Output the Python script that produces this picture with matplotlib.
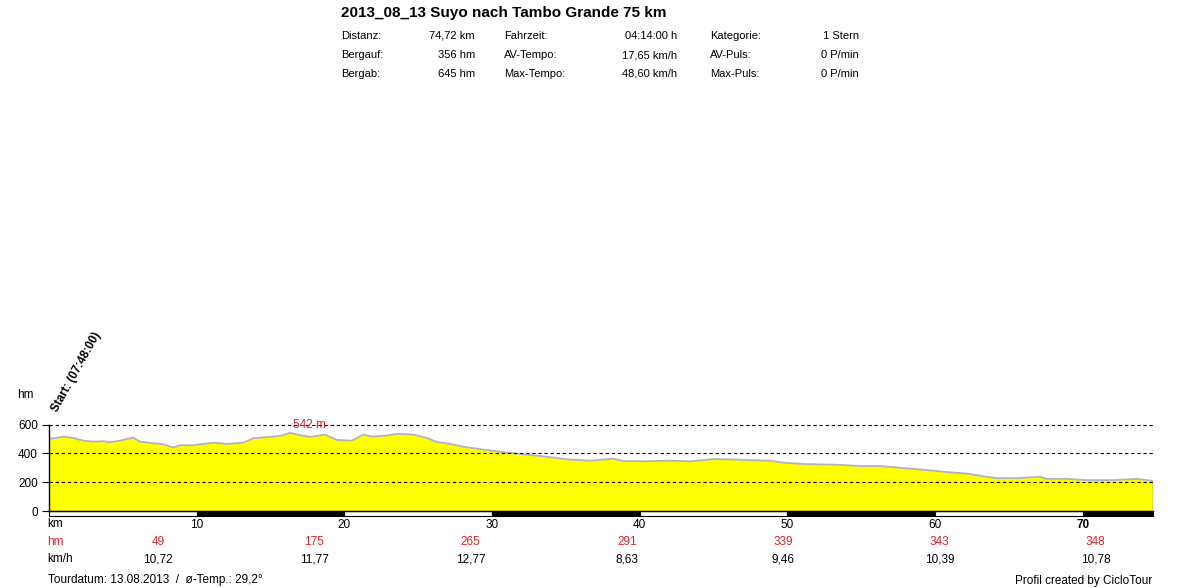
import matplotlib.pyplot as plt
from matplotlib.patches import Rectangle

plt.rcParams['font.family'] = ['Liberation Sans', 'DejaVu Sans']

# elevation profile (km, m)
dist = [0, 0.41, 0.97, 1.65, 2.33, 3.0, 3.68, 4.14, 4.81, 5.71, 6.17, 7.07, 7.75,
        8.42, 8.88, 9.78, 11.13, 12.04, 13.16, 13.84, 14.75, 15.65, 16.32, 17.0,
        17.68, 18.69, 19.49, 20.5, 21.29, 21.86, 22.64, 23.66, 24.67, 25.58, 26.26,
        27.16, 28.29, 29.64, 31.0, 32.35, 33.7, 35.06, 36.64, 38.21, 38.89, 40.24,
        42.05, 43.41, 44.99, 46.12, 47.47, 48.82, 49.72, 51.08, 53.34, 55.0, 56.27,
        57.85, 59.43, 60.78, 62.14, 63.49, 64.17, 65.53, 67.1, 67.55, 68.91, 70.26,
        72.07, 73.65, 74.72]
elev = [502, 505, 516, 507, 488, 481, 484, 477, 488, 509, 481, 470, 463,
        440, 456, 456, 474, 465, 474, 505, 512, 521, 542, 526,
        514, 530, 493, 488, 530, 516, 521, 536, 530, 507, 479,
        465, 442, 423, 405, 391, 377, 358, 349, 363, 347, 345,
        349, 344, 360, 358, 353, 349, 335, 326, 321, 312, 312,
        298, 284, 270, 260, 237, 228, 228, 237, 223, 223, 214,
        214, 223, 209]
total_km = 74.72
peak_km, peak_m = 16.32, 542

km_ticks = [10, 20, 30, 40, 50, 60, 70]
hm_row = ['49', '175', '265', '291', '339', '343', '348']
kmh_row = ['10,72', '11,77', '12,77', '8,63', '9,46', '10,39', '10,78']

title = '2013_08_13 Suyo nach Tambo Grande 75 km'
stats = [
    [('Distanz:', '74,72 km'), ('Fahrzeit:', '04:14:00 h'), ('Kategorie:', '1 Stern')],
    [('Bergauf:', '356 hm'), ('AV-Tempo:', '17,65 km/h'), ('AV-Puls:', '0 P/min')],
    [('Bergab:', '645 hm'), ('Max-Tempo:', '48,60 km/h'), ('Max-Puls:', '0 P/min')],
]

RED = '#e0202a'
W, H = 1200, 588


def fx(x):
    return x / W


def fy(y):
    return 1 - y / H


fig = plt.figure(figsize=(12, 5.88), dpi=100)
ax = fig.add_axes([fx(48.9), fy(511), (1152.5 - 48.9) / W, (511 - 424.5) / H])
ax.set_xlim(0, total_km)
ax.set_ylim(0, 600)

ax.fill_between(dist, elev, color='#ffff00', lw=0, zorder=1)
ax.plot(dist, elev, color='#b2b2c2', lw=1.3, zorder=2)
ax.vlines(dist[-1], 0, elev[-1], color='#3a6ab0', lw=1, zorder=2)
for y in (200, 400, 600):
    ax.axhline(y, color='black', lw=0.8, ls=(0, (3, 2.5)), zorder=3, clip_on=False)

for s in ('top', 'right'):
    ax.spines[s].set_visible(False)
for s in ('left', 'bottom'):
    ax.spines[s].set_linewidth(1)
    ax.spines[s].set_zorder(4)

ax.set_yticks([0, 200, 400, 600])
ax.tick_params(axis='y', length=5, width=0.8, pad=3, labelsize=8.5)
ax.set_xticks(km_ticks)
ax.tick_params(axis='x', length=0, pad=6, labelsize=8.5)
ax.get_xticklabels()[-1].set_fontweight('bold')

# alternating 10 km bar under the axis
for i in range(8):
    a = i * 10
    b = min(a + 10, total_km)
    ax.add_patch(Rectangle((a, -33), b - a, 33, facecolor='black' if i % 2 else 'white',
                           edgecolor='black', lw=0.8, clip_on=False, zorder=4))

ax.annotate(f'{peak_m} m', xy=(peak_km, 600), xytext=(2, 0), textcoords='offset points',
            ha='left', va='center', color=RED, fontsize=8.5, zorder=5)

fig.text(fx(57), fy(413), 'Start: (07:48:00)', rotation=61, rotation_mode='anchor',
         ha='left', va='baseline', fontsize=8.5, fontweight='bold')
fig.text(fx(17), fy(395), 'hm', ha='left', va='center', fontsize=8.5)

# rows under the profile
fig.text(fx(47), fy(524), 'km', ha='left', va='center', fontsize=8.5)
fig.text(fx(47), fy(542), 'hm', ha='left', va='center', fontsize=8.5, color=RED)
fig.text(fx(47), fy(559), 'km/h', ha='left', va='center', fontsize=8.5)
for i, (h, v) in enumerate(zip(hm_row, kmh_row)):
    x = 158 + 156.3 * i
    fig.text(fx(x), fy(542), h, ha='center', va='center', fontsize=8.5, color=RED)
    fig.text(fx(x), fy(559), v, ha='center', va='center', fontsize=8.5)

fig.text(fx(48), fy(580), 'Tourdatum: 13.08.2013  /  ø-Temp.: 29,2°',
         ha='left', va='center', fontsize=8.5)
fig.text(fx(1152), fy(581), 'Profil created by CicloTour',
         ha='right', va='center', fontsize=8.5)

# header
fig.text(fx(341), fy(13), title, ha='left', va='center', fontsize=11, fontweight='bold')
col_lab = [341, 504, 710]
col_val = [475, 677, 859]
for r, row in enumerate(stats):
    y = 36 + 19 * r
    for c, (lab, val) in enumerate(row):
        fig.text(fx(col_lab[c]), fy(y), lab, ha='left', va='center', fontsize=8)
        fig.text(fx(col_val[c]), fy(y), val, ha='right', va='center', fontsize=8)

fig.savefig('out.png', dpi=100)
